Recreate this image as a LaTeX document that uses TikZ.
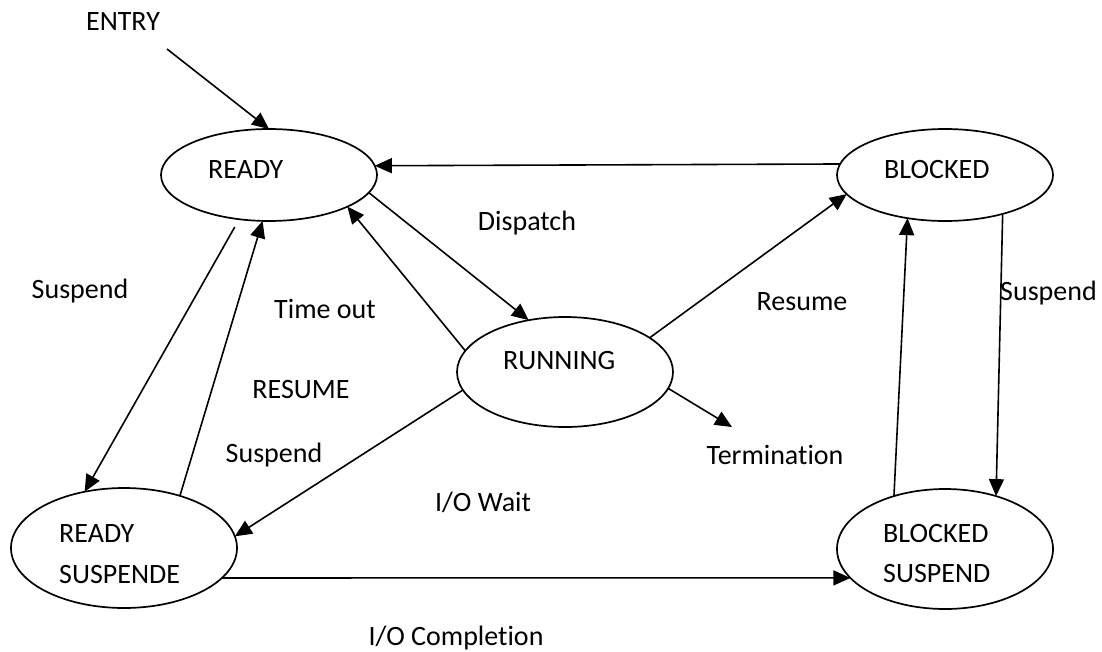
\documentclass[tikz,border=0pt]{standalone}
\usepackage{fontspec}
\setmainfont{Carlito}[Ligatures=NoCommon]
\usetikzlibrary{arrows.meta,shapes.geometric}
\begin{document}
\begin{tikzpicture}[x=1pt,y=-1pt,
  state/.style={draw, ellipse, line width=1.7pt, inner sep=0pt, outer sep=0pt},
  lbl/.style={inner sep=0pt, font=\fontsize{28}{34}\selectfont, anchor=base west},
  clbl/.style={inner sep=0pt, font=\fontsize{28}{34}\selectfont, anchor=base},
  tr/.style={line width=1.6pt, -{Triangle[length=17pt,width=15pt]}}]
\useasboundingbox (0,0) rectangle (1102,651);
\fill[white] (0,0) rectangle (1102,651);
% states
\node[state, minimum width=216pt, minimum height=92pt] (ready) at (269,175) {};
\node[state, minimum width=216pt, minimum height=92pt] (blocked) at (945,175) {};
\node[state, minimum width=216pt, minimum height=110pt] (running) at (565,372) {};
\node[state, minimum width=226pt, minimum height=120pt] (rs) at (124,548) {};
\node[state, minimum width=216pt, minimum height=120pt] (bs) at (945,549) {};
% state texts
\node[lbl] (readyT) at (208,178) {READY};
\node[lbl] (blockedT) at (884,178) {BLOCKED};
\node[lbl] (runningT) at (503,369) {RUNNING};
\node[lbl] (rsT1) at (59,542) {READY};
\node[lbl] (rsT2) at (59,583) {SUSPENDE};
\node[lbl] (bsT1) at (883,542) {BLOCKED};
\node[lbl] (bsT2) at (883,582) {SUSPEND};
% free ends
\coordinate (entryend) at (167,49);
\coordinate (termend) at (732,427);
% labels
\node[clbl] (entryL) at (123,30) {ENTRY};
\node[clbl] (dispatchL) at (527,230) {Dispatch};
\node[clbl] (resumeL) at (802,310) {Resume};
\node[clbl] (suspL) at (80,298) {Suspend};
\node[clbl] (timeoutL) at (325,318) {Time out};
\node[clbl] (resumeCL) at (301,398) {RESUME};
\node[clbl] (suspML) at (274,462) {Suspend};
\node[clbl] (termL) at (775,464) {Termination};
\node[clbl] (iowaitL) at (483,511) {I/O Wait};
\node[clbl] (iocompL) at (456,645) {I/O Completion};
\node[lbl] (suspRL) at (1000,300) {Suspend};
% connectors
\draw[tr] (entryend) -- (ready.north);
\draw[tr] (blocked.174.6) -- (ready.5.4);
\draw[tr] (ready.-10.3) -- (running.125.6);
\draw[tr] (running.168.1) -- (ready.-22.6);
\draw[tr] (running.22.1) -- (blocked.191);
\draw[tr, shorten <=9pt] (ready.236.7) -- (rs.125.8);
\draw[tr] (rs.43.1) -- (ready.262.7);
\draw[tr] (running.190) -- (rs.6.1);
\draw[tr] (running.-9.5) -- (termend);
\draw[tr] (rs.-17) -- (bs.197.8);
\draw[tr] (blocked.-34) -- (bs.46.6);
\draw[tr] (bs.134.5) -- (blocked.229);
\end{tikzpicture}
\end{document}
